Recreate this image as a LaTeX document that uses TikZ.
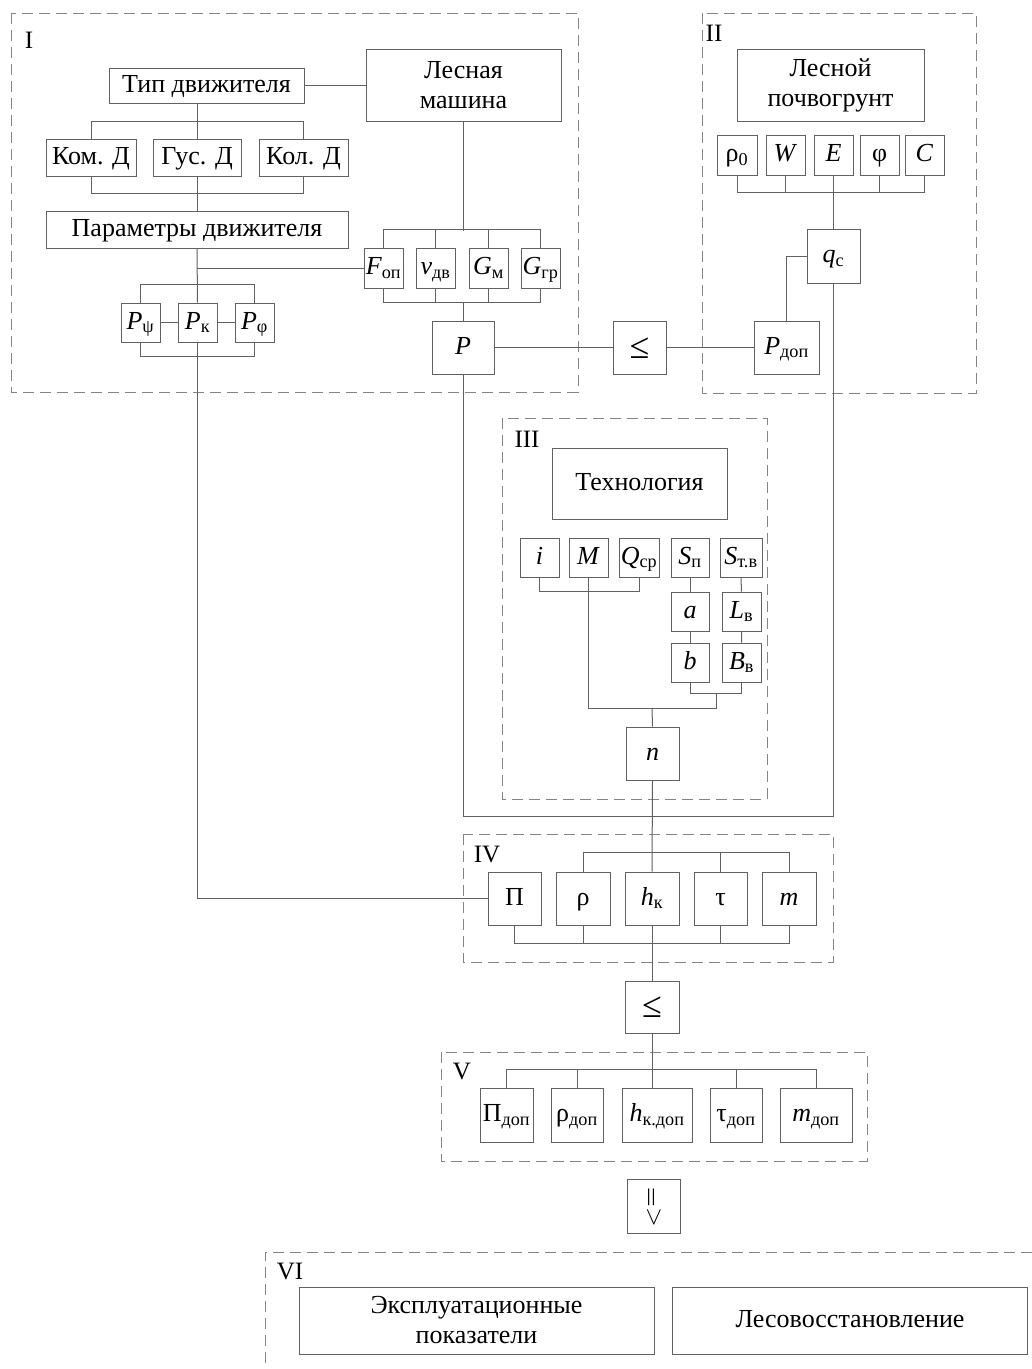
\documentclass[tikz,border=0pt]{standalone}
\usepackage{fontspec}
\usepackage{graphicx}
\setmainfont{Liberation Serif}
\newcommand{\sbs}[1]{\textsubscript{#1}}
\colorlet{linegray}{black!62}
\colorlet{framegray}{black!48}
\tikzset{
  box/.style={draw=linegray, line width=1pt, inner sep=0pt,
    font=\fontsize{26}{30}\selectfont},
  blk/.style={box, text height=18pt, text depth=5pt},
  twoline/.style={box, align=center},
  relbox/.style={box, font=\fontsize{36}{36}\selectfont, text height=21pt, text depth=0pt},
  sz/.style 2 args={minimum width=#1, minimum height=#2},
  wire/.style={draw=linegray, line width=1pt},
  grp/.style={draw=framegray, line width=1pt, dash pattern=on 11pt off 6pt},
  roman/.style={inner sep=0pt, font=\fontsize{25}{29}\selectfont},
}

\begin{document}
\begin{tikzpicture}[x=1pt,y=-1pt]
  \useasboundingbox (0,0) rectangle (1032,1369);

  % groups
  \draw[grp] (11,13) rectangle (578,392);
  \draw[grp] (702,13) rectangle (976,393);
  \draw[grp] (502,418) rectangle (767,799);
  \draw[grp] (463,834) rectangle (833,962);
  \draw[grp] (441,1052) rectangle (867,1161);
  \draw[grp] (1032,1252) -- (265,1252) -- (265,1369);
  \node[roman] (lI) at (29,40) {I};
  \node[roman] (lII) at (714,33) {II};
  \node[roman] (lIII) at (527,439) {III};
  \node[roman] (lIV) at (487,854) {IV};
  \node[roman] (lV) at (462,1071) {V};
  \node[roman] (lVI) at (290,1271) {VI};

  % I: machine and propulsion
  \node[blk, sz={195}{35}] (typ) at (206.5,85.5) {Тип движителя};
  \node[twoline, sz={195}{72}] (mash) at (463.5,85) {Лесная\\машина};
  \node[blk, sz={90}{37}] (kom) at (91,157.5) {Ком. Д};
  \node[blk, sz={88}{37}] (gus) at (197,157.5) {Гус. Д};
  \node[blk, sz={89}{37}] (kol) at (303.5,157.5) {Кол. Д};
  \node[blk, sz={302}{37}] (par) at (197,229.5) {Параметры движителя};
  \node[blk, sz={39}{39}] (ppsi) at (140.5,322.5) {\textit{P}\sbs{ψ}};
  \node[blk, sz={39}{39}] (pk) at (197.5,322.5) {\textit{P}\sbs{к}};
  \node[blk, sz={39}{39}] (pphi) at (254.5,322.5) {\textit{P}\sbs{φ}};
  \node[blk, sz={39}{40}] (fop) at (383.5,268) {\textit{F}\sbs{оп}};
  \node[blk, sz={39}{40}] (vdv) at (435.5,268) {\textit{v}\sbs{дв}};
  \node[blk, sz={39}{40}] (gm) at (488.5,268) {\textit{G}\sbs{м}};
  \node[blk, sz={39}{40}] (ggr) at (540.5,268) {\textit{G}\sbs{гр}};
  \node[blk, sz={62}{53}] (p) at (463,347.5) {\textit{P}};
  \node[relbox, sz={53}{53}] (le1) at (639.5,347.5) {≤};

  % II: soil
  \node[twoline, sz={187}{72}] (pochva) at (830.5,85) {Лесной\\почвогрунт};
  \node[blk, sz={40}{40}] (rho0) at (737,155) {ρ\sbs{0}};
  \node[blk, sz={39}{40}] (w) at (785.5,155) {\textit{W}};
  \node[blk, sz={39}{40}] (e) at (833.5,155) {\textit{E}};
  \node[blk, sz={39}{40}] (phi) at (879.5,155) {φ};
  \node[blk, sz={39}{40}] (c) at (924.5,155) {\textit{C}};
  \node[blk, sz={53}{54}] (qc) at (833.5,256) {\textit{q}\sbs{с}};
  \node[blk, sz={65}{53}] (pdop) at (786.5,347.5) {\textit{P}\sbs{доп}};

  % III: technology
  \node[blk, sz={175}{71}] (tech) at (639.5,483.5) {Технология};
  \node[blk, sz={39}{39}] (i) at (539.5,557.5) {\textit{i}};
  \node[blk, sz={39}{39}] (mm) at (588.5,557.5) {\textit{M}};
  \node[blk, sz={40}{39}] (qcp) at (639,557.5) {\textit{Q}\sbs{ср}};
  \node[blk, sz={38}{39}] (sp) at (690,557.5) {\textit{S}\sbs{п}};
  \node[blk, sz={42}{39}] (stv) at (741,557.5) {\textit{S}\sbs{т.в}};
  \node[blk, sz={38}{39}] (a) at (690,611.5) {\textit{a}};
  \node[blk, sz={39}{39}] (lv) at (741.5,611.5) {\textit{L}\sbs{в}};
  \node[blk, sz={38}{39}] (b) at (690,662.5) {\textit{b}};
  \node[blk, sz={39}{39}] (bv) at (741.5,662.5) {\textit{B}\sbs{в}};
  \node[blk, sz={53}{53}] (n) at (652.5,753.5) {\textit{n}};

  % IV: track parameters
  \node[blk, sz={53}{53}] (pi) at (514.5,898.5) {П};
  \node[blk, sz={54}{53}] (rho) at (583,898.5) {ρ};
  \node[blk, sz={54}{53}] (hk) at (652,898.5) {\textit{h}\sbs{к}};
  \node[blk, sz={53}{53}] (tau) at (720.5,898.5) {τ};
  \node[blk, sz={54}{53}] (m4) at (789,898.5) {\textit{m}};
  \node[relbox, sz={54}{52}] (le2) at (652,1007) {≤};

  % V: allowed values
  \node[blk, sz={53}{54}] (pid) at (506.5,1115) {П\sbs{доп}};
  \node[blk, sz={52}{54}] (rhod) at (577,1115) {ρ\sbs{доп}};
  \node[blk, sz={70}{54}] (hkd) at (657,1115) {\textit{h}\sbs{к.доп}};
  \node[blk, sz={52}{54}] (taud) at (736,1115) {τ\sbs{доп}};
  \node[blk, sz={72}{54}] (md) at (816,1115) {\textit{m}\sbs{доп}};
  \node[twoline, sz={53}{54}, font=\fontsize{24}{24}\selectfont] (ge) at (654,1206)
    {\scalebox{1}[1.5]{\rotatebox{90}{=}}\\[-7pt]$\vee$};

  % VI: results
  \node[twoline, sz={355}{67}] (expl) at (476.5,1320.5) {Эксплуатационные\\показатели};
  \node[blk, sz={355}{67}] (lesov) at (850,1320.5) {Лесовосстановление};

  % connectors I
  \draw[wire] (typ.east) -- (mash.west |- typ.east);
  \draw[wire] (typ.south -| gus.north) -- (gus.north);
  \draw[wire] (kom.north) -- ++(0,-17) -| (kol.north);
  \draw[wire] (kom.south) -- ++(0,17) -| (kol.south);
  \draw[wire] (gus.south) -- (par.north);
  \draw[wire] (par.south) -- (pk.north);
  \draw[wire] (par.south |- fop.west) -- (fop.west);
  \draw[wire] (ppsi.north) -- ++(0,-18) -| (pphi.north);
  \draw[wire] (ppsi.south) -- ++(0,14) -| (pphi.south);
  \draw[wire] (ppsi.east) -- (pk.west) (pk.east) -- (pphi.west);
  \draw[wire] (mash.south) -- ++(0,109);
  \draw[wire] (fop.north) -- ++(0,-18) -| (ggr.north);
  \draw[wire] (fop.south) -- ++(0,14) -| (ggr.south);
  \foreach \k in {vdv,gm}
    \draw[wire] (\k.north) -- ++(0,-18) (\k.south) -- ++(0,14);
  \draw[wire] (p.north) -- ++(0,-19);
  \draw[wire] (p.east) -- (le1.west) (le1.east) -- (pdop.west);

  % connectors II
  \draw[wire] (rho0.south) -- ++(0,17) -| (c.south);
  \foreach \k in {w,phi}
    \draw[wire] (\k.south) -- ++(0,17);
  \draw[wire] (e.south) -- (qc.north);
  \draw[wire] (qc.west) -| (pdop.north);

  % connectors III
  \coordinate (tj) at (652,708);
  \coordinate (tr) at (716,708);
  \draw[wire] (i.south) -- ++(0,14) -| (qcp.south);
  \draw[wire] (mm.south) |- (tr) -- ++(0,-15);
  \draw[wire] (sp.south) -- (a.north) (a.south) -- (b.north);
  \draw[wire] (stv.south) -- (lv.north) (lv.south) -- (bv.north);
  \draw[wire] (b.south) -- ++(0,11) -| (bv.south);
  \draw[wire] (tj) -- (n.north);

  % connectors to IV
  \coordinate (jn) at (652,816);
  \draw[wire] (p.south) |- (jn) -| (qc.south);
  \draw[wire] (n.south) -- (hk.north);
  \draw[wire] (pk.south) |- (pi.west);
  \draw[wire] (rho.north) -- ++(0,-19) -| (m4.north);
  \draw[wire] (tau.north) -- ++(0,-19);
  \draw[wire] (pi.south) -- ++(0,18) -| (m4.south);
  \foreach \k in {rho,tau}
    \draw[wire] (\k.south) -- ++(0,18);
  \draw[wire] (hk.south) -- (le2.north);

  % connectors V
  \draw[wire] (le2.south) -- (le2.south |- hkd.north);
  \draw[wire] (pid.north) -- ++(0,-18) -| (md.north);
  \foreach \k in {rhod,taud}
    \draw[wire] (\k.north) -- ++(0,-18);
\end{tikzpicture}
\end{document}
